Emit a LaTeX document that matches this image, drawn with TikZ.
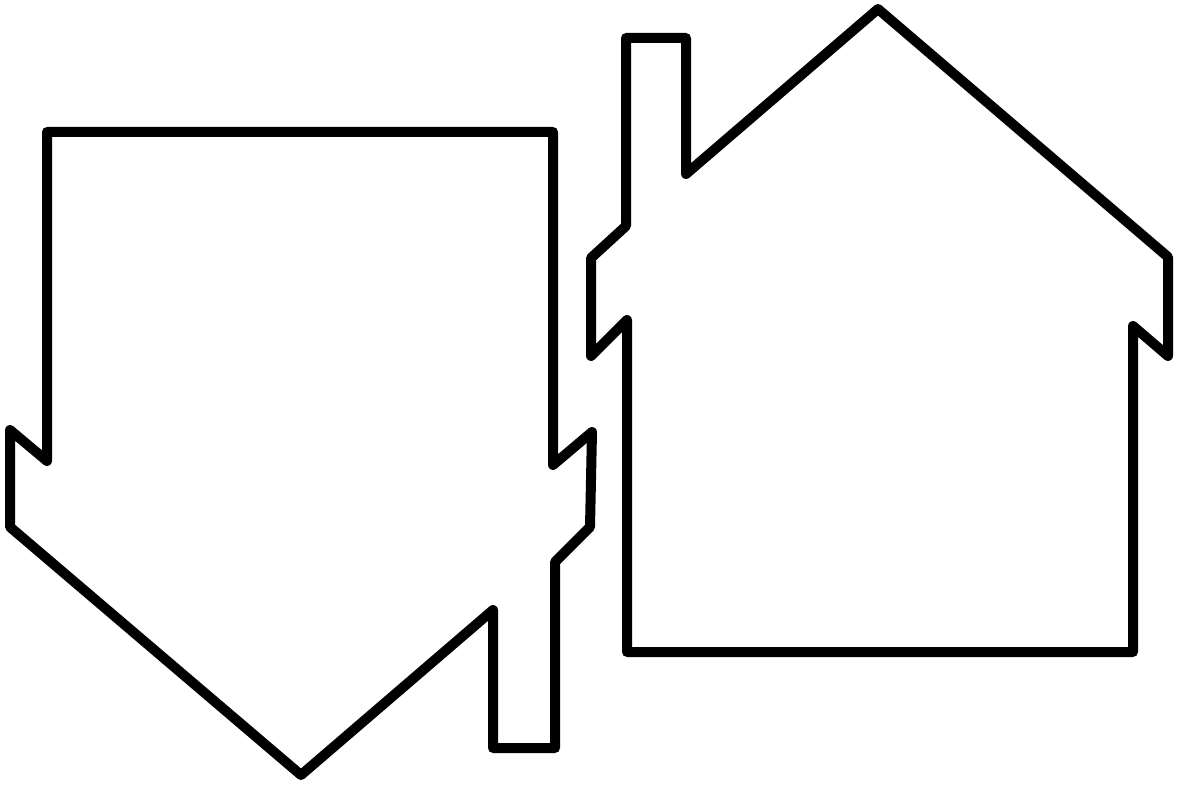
\documentclass[tikz,border=0pt]{standalone}
\begin{document}
\begin{tikzpicture}[x=1pt,y=-1pt,
  outline/.style={draw=black,line width=10pt,line join=round,line cap=round}]
\useasboundingbox[fill=white] (0,0) rectangle (1178,786);
% left house (upside down)
\draw[outline] (47,132) -- (553,132) -- (553,465) -- (592,432) -- (590,527)
  -- (555,562) -- (555,748) -- (493,748) -- (493,610) -- (301,775)
  -- (10,527) -- (10,430) -- (47,461) -- cycle;
% right house
\draw[outline] (626,38) -- (686,38) -- (686,174) -- (878,9) -- (1168,257)
  -- (1168,356) -- (1133,326) -- (1133,652) -- (627,652) -- (627,320)
  -- (591,356) -- (591,258) -- (626,226) -- cycle;
\end{tikzpicture}
\end{document}
